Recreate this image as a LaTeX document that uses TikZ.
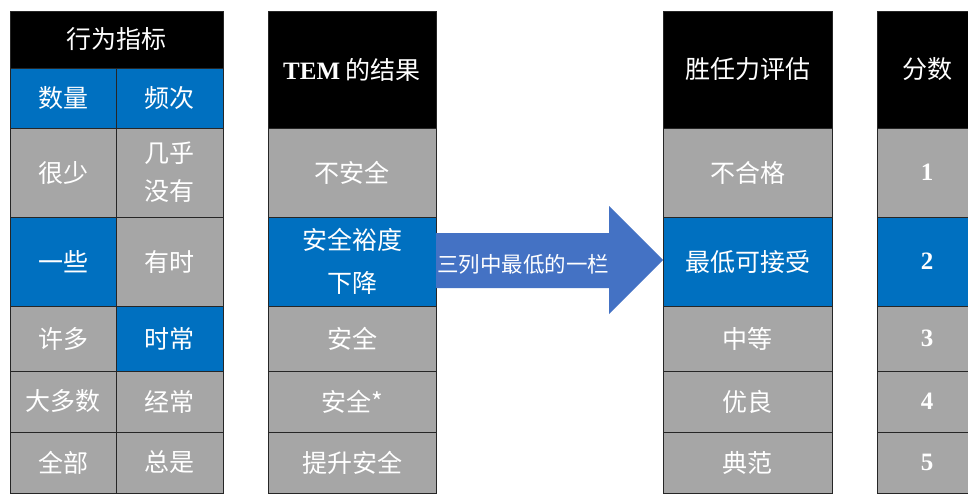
\documentclass[tikz,border=0pt]{standalone}
\usepackage{fontspec}
\setmainfont{Liberation Serif}
\newfontfamily\cjk{Noto Sans CJK SC}
\definecolor{cellgray}{HTML}{A6A6A6}
\definecolor{cellblue}{HTML}{0070C0}
\definecolor{arrowblue}{HTML}{4472C4}
\newcommand\cellbox[7]{%
  \node[cell, fill=#6, minimum width={(#4-#2)*1pt}, minimum height={(#5-#3)*1pt}]
    (#1) at ({(#2+#4)/2},{(#3+#5)/2}) {#7};}
\begin{document}
\begin{tikzpicture}[x=1pt,y=-1pt,
  cell/.style={draw=black!85, line width=0.8pt, inner sep=0pt, outer sep=0pt,
    text=white, font=\cjk\fontsize{25}{40}\selectfont, align=center},
  arrowlabel/.style={text=white, font=\cjk\fontsize{21.5}{24}\selectfont, inner sep=0pt}]
\clip (0,0) rectangle (968,495);
\fill[white] (0,0) rectangle (968,495);
% table 1
\cellbox{ta}{10}{11}{223}{68}{black}{行为指标}
\cellbox{ta1a}{10}{68}{116}{128}{cellblue}{数量}
\cellbox{ta1b}{116}{68}{223}{128}{cellblue}{频次}
\cellbox{ta2a}{10}{128}{116}{217}{cellgray}{很少}
\cellbox{ta2b}{116}{128}{223}{217}{cellgray}{几乎\\[-2pt]没有}
\cellbox{ta3a}{10}{217}{116}{306}{cellblue}{一些}
\cellbox{ta3b}{116}{217}{223}{306}{cellgray}{有时}
\cellbox{ta4a}{10}{306}{116}{371}{cellgray}{许多}
\cellbox{ta4b}{116}{306}{223}{371}{cellblue}{时常}
\cellbox{ta5a}{10}{371}{116}{432}{cellgray}{大多数}
\cellbox{ta5b}{116}{371}{223}{432}{cellgray}{经常}
\cellbox{ta6a}{10}{432}{116}{493}{cellgray}{全部}
\cellbox{ta6b}{116}{432}{223}{493}{cellgray}{总是}
% table 2
\cellbox{tb}{268}{11}{436}{128}{black}{{\rmfamily\bfseries TEM} 的结果}
\cellbox{tb1}{268}{128}{436}{217}{cellgray}{不安全}
\cellbox{tb2}{268}{217}{436}{306}{cellblue}{安全裕度\\[3pt]下降}
\cellbox{tb3}{268}{306}{436}{371}{cellgray}{安全}
\cellbox{tb4}{268}{371}{436}{432}{cellgray}{安全*}
\cellbox{tb5}{268}{432}{436}{493}{cellgray}{提升安全}
% table 3
\cellbox{tc}{663}{11}{832}{128}{black}{胜任力评估}
\cellbox{tc1}{663}{128}{832}{217}{cellgray}{不合格}
\cellbox{tc2}{663}{217}{832}{306}{cellblue}{最低可接受}
\cellbox{tc3}{663}{306}{832}{371}{cellgray}{中等}
\cellbox{tc4}{663}{371}{832}{432}{cellgray}{优良}
\cellbox{tc5}{663}{432}{832}{493}{cellgray}{典范}
% table 4
\cellbox{td}{877}{11}{977}{128}{black}{分数}
\cellbox{td1}{877}{128}{977}{217}{cellgray}{\rmfamily\bfseries 1}
\cellbox{td2}{877}{217}{977}{306}{cellblue}{\rmfamily\bfseries 2}
\cellbox{td3}{877}{306}{977}{371}{cellgray}{\rmfamily\bfseries 3}
\cellbox{td4}{877}{371}{977}{432}{cellgray}{\rmfamily\bfseries 4}
\cellbox{td5}{877}{432}{977}{493}{cellgray}{\rmfamily\bfseries 5}
% block arrow
\fill[arrowblue] (436,233) -- (609,233) -- (609,206) -- (663,260) -- (609,314)
  -- (609,288) -- (436,288) -- cycle;
\node[arrowlabel] (arrowtext) at (523,264) {三列中最低的一栏};
\end{tikzpicture}
\end{document}
